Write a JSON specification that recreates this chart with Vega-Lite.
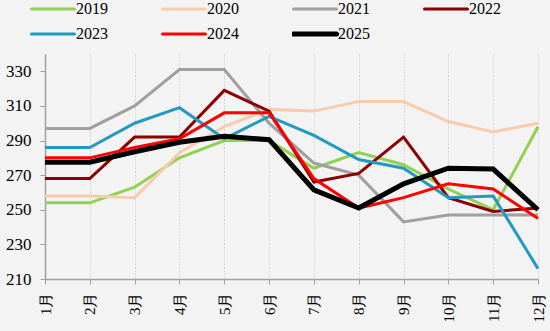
{
  "$schema": "https://vega.github.io/schema/vega-lite/v6.json",
  "width": 493,
  "height": 225,
  "autosize": {"type": "none"},
  "padding": {"left": 45, "top": 54, "right": 12, "bottom": 52},
  "background": "#f3f3f3",
  "config": {
    "view": {"stroke": null},
    "font": "Liberation Serif, Times New Roman, serif",
    "axis": {"labelFont": "Liberation Serif, Times New Roman, serif"},
    "legend": {"labelFont": "Liberation Serif, Times New Roman, serif"}
  },
  "data": {
    "values": [
      {"year": "2019", "month": "1月", "price": 254}, {"year": "2019", "month": "2月", "price": 254}, {"year": "2019", "month": "3月", "price": 263}, {"year": "2019", "month": "4月", "price": 280}, {"year": "2019", "month": "5月", "price": 290}, {"year": "2019", "month": "6月", "price": 290}, {"year": "2019", "month": "7月", "price": 274}, {"year": "2019", "month": "8月", "price": 283}, {"year": "2019", "month": "9月", "price": 276}, {"year": "2019", "month": "10月", "price": 262}, {"year": "2019", "month": "11月", "price": 250}, {"year": "2019", "month": "12月", "price": 298},
      {"year": "2020", "month": "1月", "price": 258}, {"year": "2020", "month": "2月", "price": 258}, {"year": "2020", "month": "3月", "price": 257}, {"year": "2020", "month": "4月", "price": 283}, {"year": "2020", "month": "5月", "price": 298}, {"year": "2020", "month": "6月", "price": 308}, {"year": "2020", "month": "7月", "price": 307}, {"year": "2020", "month": "8月", "price": 312.5}, {"year": "2020", "month": "9月", "price": 312.5}, {"year": "2020", "month": "10月", "price": 301}, {"year": "2020", "month": "11月", "price": 295}, {"year": "2020", "month": "12月", "price": 300},
      {"year": "2021", "month": "1月", "price": 297}, {"year": "2021", "month": "2月", "price": 297}, {"year": "2021", "month": "3月", "price": 310}, {"year": "2021", "month": "4月", "price": 331}, {"year": "2021", "month": "5月", "price": 331}, {"year": "2021", "month": "6月", "price": 300}, {"year": "2021", "month": "7月", "price": 277}, {"year": "2021", "month": "8月", "price": 270}, {"year": "2021", "month": "9月", "price": 243}, {"year": "2021", "month": "10月", "price": 247}, {"year": "2021", "month": "11月", "price": 247}, {"year": "2021", "month": "12月", "price": 247},
      {"year": "2022", "month": "1月", "price": 268}, {"year": "2022", "month": "2月", "price": 268}, {"year": "2022", "month": "3月", "price": 292}, {"year": "2022", "month": "4月", "price": 292}, {"year": "2022", "month": "5月", "price": 319}, {"year": "2022", "month": "6月", "price": 307}, {"year": "2022", "month": "7月", "price": 266}, {"year": "2022", "month": "8月", "price": 271}, {"year": "2022", "month": "9月", "price": 292}, {"year": "2022", "month": "10月", "price": 257}, {"year": "2022", "month": "11月", "price": 249}, {"year": "2022", "month": "12月", "price": 251},
      {"year": "2023", "month": "1月", "price": 286}, {"year": "2023", "month": "2月", "price": 286}, {"year": "2023", "month": "3月", "price": 300}, {"year": "2023", "month": "4月", "price": 309}, {"year": "2023", "month": "5月", "price": 291}, {"year": "2023", "month": "6月", "price": 304}, {"year": "2023", "month": "7月", "price": 293}, {"year": "2023", "month": "8月", "price": 279}, {"year": "2023", "month": "9月", "price": 274}, {"year": "2023", "month": "10月", "price": 257}, {"year": "2023", "month": "11月", "price": 258}, {"year": "2023", "month": "12月", "price": 216},
      {"year": "2024", "month": "1月", "price": 280}, {"year": "2024", "month": "2月", "price": 280}, {"year": "2024", "month": "3月", "price": 286}, {"year": "2024", "month": "4月", "price": 291}, {"year": "2024", "month": "5月", "price": 306}, {"year": "2024", "month": "6月", "price": 306}, {"year": "2024", "month": "7月", "price": 268}, {"year": "2024", "month": "8月", "price": 251}, {"year": "2024", "month": "9月", "price": 257}, {"year": "2024", "month": "10月", "price": 265}, {"year": "2024", "month": "11月", "price": 262}, {"year": "2024", "month": "12月", "price": 245},
      {"year": "2025", "month": "1月", "price": 277.5}, {"year": "2025", "month": "2月", "price": 277.5}, {"year": "2025", "month": "3月", "price": 283.5}, {"year": "2025", "month": "4月", "price": 289}, {"year": "2025", "month": "5月", "price": 292.5}, {"year": "2025", "month": "6月", "price": 290.5}, {"year": "2025", "month": "7月", "price": 261.5}, {"year": "2025", "month": "8月", "price": 251}, {"year": "2025", "month": "9月", "price": 265}, {"year": "2025", "month": "10月", "price": 274}, {"year": "2025", "month": "11月", "price": 273.5}, {"year": "2025", "month": "12月", "price": 250}
    ]
  },
  "mark": {"type": "line", "strokeJoin": "miter", "strokeCap": "butt"},
  "encoding": {
    "x": {
      "field": "month",
      "type": "ordinal",
      "sort": ["1月", "2月", "3月", "4月", "5月", "6月", "7月", "8月", "9月", "10月", "11月", "12月"],
      "scale": {"type": "point", "padding": 0},
      "axis": {
        "title": null,
        "labelAngle": -90,
        "labelAlign": "right",
        "labelBaseline": "middle",
        "labelFontSize": 15,
        "labelColor": "#000000",
        "labelPadding": 8,
        "domainColor": "#a0a0a0",
        "domainWidth": 1.5,
        "tickColor": "#a0a0a0",
        "tickSize": 5,
        "tickWidth": 1,
        "grid": true,
        "gridColor": "#c0c0c0",
        "gridDash": [1, 2],
        "gridWidth": 1
      }
    },
    "y": {
      "field": "price",
      "type": "quantitative",
      "scale": {"domain": [210, 340], "nice": false, "zero": false},
      "axis": {
        "title": null,
        "values": [210, 230, 250, 270, 290, 310, 330],
        "grid": false,
        "labelFontSize": 17,
        "labelColor": "#000000",
        "labelPadding": 9,
        "domainColor": "#a0a0a0",
        "domainWidth": 1.5,
        "tickColor": "#a0a0a0",
        "tickSize": 5
      }
    },
    "color": {
      "field": "year",
      "type": "nominal",
      "scale": {
        "domain": ["2019", "2020", "2021", "2022", "2023", "2024", "2025"],
        "range": ["#92d050", "#f8cbad", "#a0a0a0", "#8b0000", "#2399c1", "#ff0000", "#000000"]
      },
      "legend": {
        "title": null,
        "orient": "none",
        "legendX": -15,
        "legendY": -55,
        "direction": "horizontal",
        "columns": 4,
        "gridAlign": "all",
        "padding": 0,
        "symbolType": "stroke",
        "symbolSize": 1849,
        "symbolStrokeWidth": 3,
        "clipHeight": 20,
        "labelFontSize": 16,
        "labelColor": "#000000",
        "labelOffset": 0,
        "columnPadding": 53,
        "rowPadding": 5,
        "encode": {
          "symbols": {"update": {"strokeWidth": {"signal": "(datum.value == '2025' ? 5 : 3)"}, "strokeCap": {"value": "round"}}}
        }
      }
    },
    "strokeWidth": {
      "condition": {"test": "datum.year == '2025'", "value": 5},
      "value": 3
    }
  }
}
